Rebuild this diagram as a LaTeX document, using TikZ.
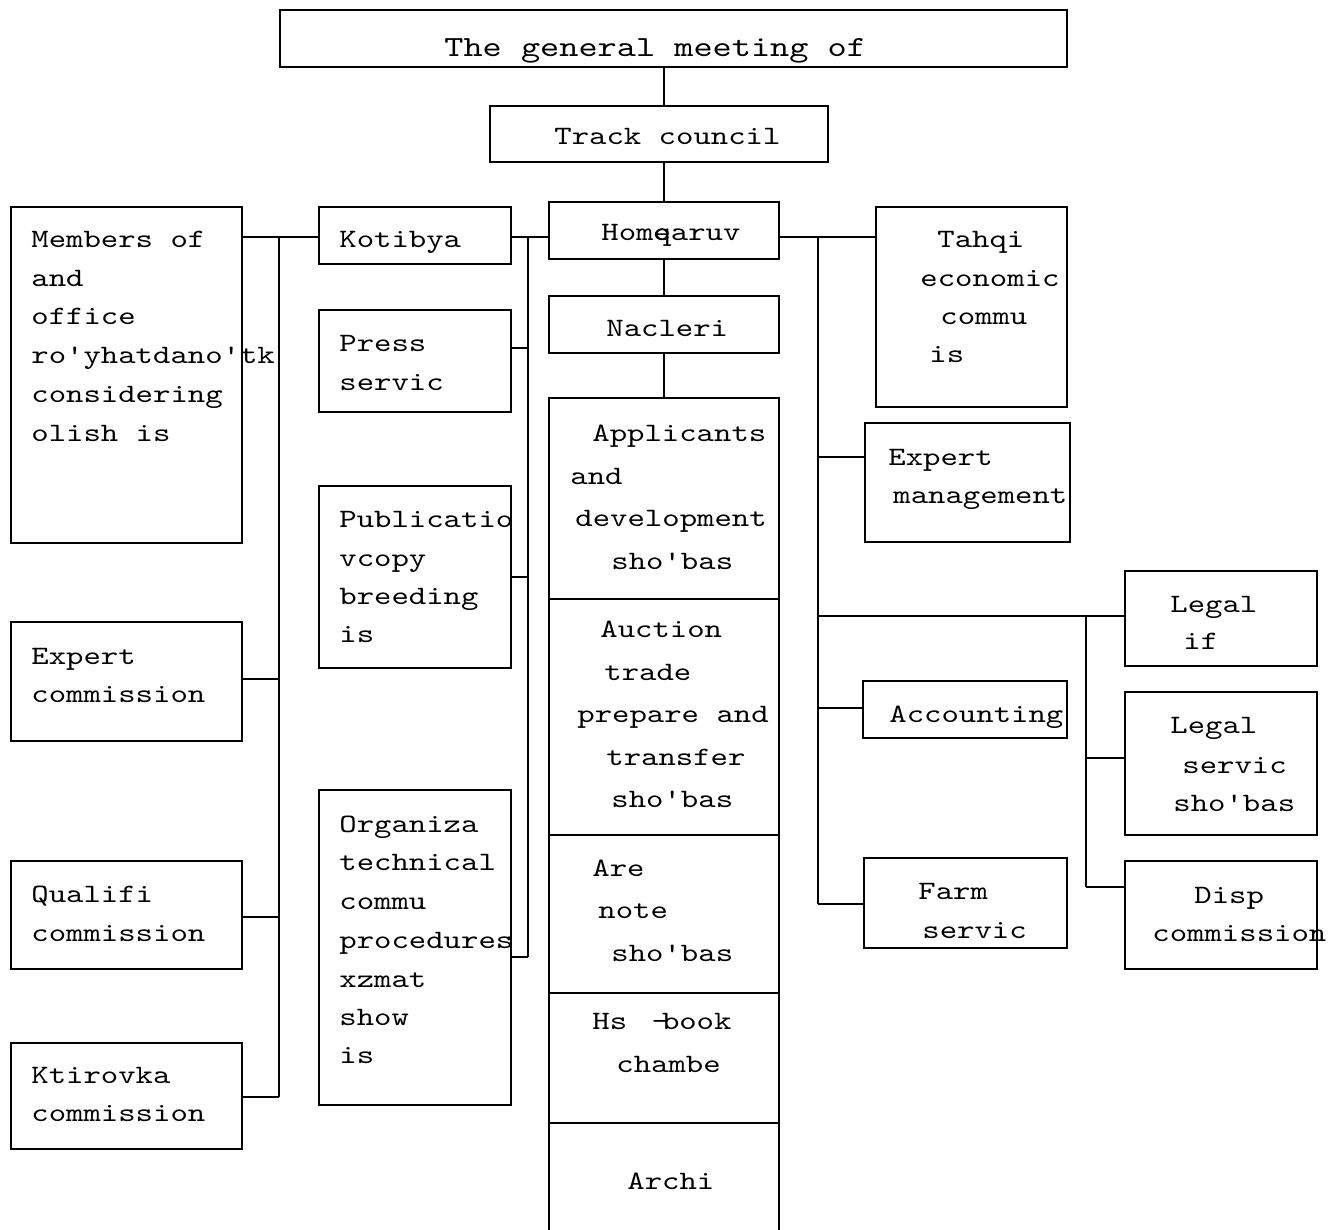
\documentclass[tikz,border=0pt]{standalone}
\usepackage{fontspec}
\setmonofont[FakeStretch=1.25]{lmmono10-regular.otf}
\usetikzlibrary{calc}
\tikzset{
  box/.style={draw, line width=1pt, anchor=north west, inner sep=0pt},
  txt/.style={anchor=base west, inner sep=0pt, font=\ttfamily\fontsize{13.25}{19}\selectfont},
  bigtxt/.style={anchor=base west, inner sep=0pt, font=\ttfamily\fontsize{14.6}{19}\selectfont},
  conn/.style={line width=1pt},
}
\newcommand\bx[5]{\node[box, minimum width={(#4-#2)*0.5pt}, minimum height={(#5-#3)*0.5pt}] (#1) at (#2,#3) {};}
\newcommand\tl[4]{\node[txt] (#1) at (#2,{#3+8}) {#4};}
\begin{document}
\begin{tikzpicture}[x=0.5pt,y=-0.5pt]
\useasboundingbox (0,0) rectangle (1339,1230);
% boxes
\bx{gm}{279}{9}{1066}{66}
\bx{tc}{489}{105}{827}{161}
\bx{home}{548}{201}{778}{258}
\bx{nac}{548}{295}{778}{352}
\bx{app}{548}{397}{778}{598}
\bx{auc}{548}{598}{778}{834}
\bx{are}{548}{834}{778}{992}
\bx{hs}{548}{992}{778}{1122}
\bx{arc}{548}{1122}{778}{1250}
\bx{mem}{10}{206}{241}{542}
\bx{expc}{10}{621}{241}{740}
\bx{qual}{10}{860}{241}{968}
\bx{ktir}{10}{1042}{241}{1148}
\bx{kot}{318}{206}{510}{263}
\bx{press}{318}{309}{510}{411}
\bx{pub}{318}{485}{510}{667}
\bx{org}{318}{789}{510}{1104}
\bx{tahqi}{875}{206}{1066}{406}
\bx{expm}{864}{422}{1069}{541}
\bx{legif}{1124}{570}{1316}{665}
\bx{acc}{862}{680}{1066}{737}
\bx{legs}{1124}{691}{1316}{834}
\bx{farm}{863}{857}{1066}{947}
\bx{disp}{1124}{860}{1316}{968}
% texts
\node[bigtxt] (t-gm) at (444,57) {The general meeting of};
\tl{t-tc}{554}{137}{Track council}
\tl{t-home}{601}{233}{Hom\rlap{e}qaruv}
\tl{t-nac}{606}{328}{Nacleri}
\tl{t-app1}{592}{433}{Applicants}
\tl{t-app2}{570}{476}{and}
\tl{t-app3}{575}{518}{development}
\tl{t-app4}{611}{561}{sho'bas}
\tl{t-auc1}{600}{629}{Auction}
\tl{t-auc2}{604}{672}{trade}
\tl{t-auc3}{577}{714}{prepare and}
\tl{t-auc4}{606}{757}{transfer}
\tl{t-auc5}{611}{799}{sho'bas}
\tl{t-are1}{592}{868}{Are}
\tl{t-are2}{598}{910}{note}
\tl{t-are3}{611}{953}{sho'bas}
\tl{t-hs1}{592}{1021}{Hs~\rlap{\kern0.27em–}~book}
\tl{t-hs2}{616}{1064}{chambe}
\tl{t-arc}{627}{1181}{Archi}
\tl{t-mem1}{31}{240}{Members of}
\tl{t-mem2}{31}{279}{and}
\tl{t-mem3}{31}{317}{office}
\tl{t-mem4}{31}{356}{ro'yhatdano'tk}
\tl{t-mem5}{31}{394}{considering}
\tl{t-mem6}{31}{433}{olish is}
\tl{t-expc1}{31}{656}{Expert}
\tl{t-expc2}{31}{694}{commission}
\tl{t-qual1}{31}{894}{Qualifi}
\tl{t-qual2}{31}{933}{commission}
\tl{t-ktir1}{31}{1075}{Ktirovka}
\tl{t-ktir2}{31}{1113}{commission}
\tl{t-kot}{339}{240}{Kotibya}
\tl{t-press1}{339}{343}{Press}
\tl{t-press2}{339}{382}{servic}
\tl{t-pub1}{339}{519}{Publicatio}
\tl{t-pub2}{339}{558}{vcopy}
\tl{t-pub3}{339}{596}{breeding}
\tl{t-pub4}{339}{634}{is}
\tl{t-org1}{339}{824}{Organiza}
\tl{t-org2}{339}{862}{technical}
\tl{t-org3}{339}{901}{commu}
\tl{t-org4}{339}{940}{procedures}
\tl{t-org5}{339}{979}{xzmat}
\tl{t-org6}{339}{1017}{show}
\tl{t-org7}{339}{1055}{is}
\tl{t-tah1}{937}{240}{Tahqi}
\tl{t-tah2}{920}{279}{economic}
\tl{t-tah3}{940}{317}{commu}
\tl{t-tah4}{929}{355}{is}
\tl{t-expm1}{888}{457}{Expert}
\tl{t-expm2}{893}{495}{management}
\tl{t-legif1}{1170}{604}{Legal}
\tl{t-legif2}{1183}{641}{if}
\tl{t-acc}{889}{714}{Accounting}
\tl{t-legs1}{1170}{725}{Legal}
\tl{t-legs2}{1182}{765}{servic}
\tl{t-legs3}{1173}{803}{sho'bas}
\tl{t-farm1}{918}{891}{Farm}
\tl{t-farm2}{922}{930}{servic}
\tl{t-disp1}{1194}{895}{Disp}
\tl{t-disp2}{1152}{933}{commission}
% central spine
\draw[conn] (home.north |- gm.south) -- (home.north |- tc.north);
\draw[conn] (home.north |- tc.south) -- (home.north);
\draw[conn] (home.south) -- (nac.north);
\draw[conn] (nac.south) -- (app.north);
% left bus
\coordinate (lbt) at (279,237);
\coordinate (lbb) at (279,1097);
\coordinate (j-expc) at (279,679);
\coordinate (j-qual) at (279,917);
\draw[conn] (mem.east |- lbt) -- (kot.west |- lbt);
\draw[conn] (lbt) -- (lbb);
\draw[conn] (expc.east |- j-expc) -- (j-expc);
\draw[conn] (qual.east |- j-qual) -- (j-qual);
\draw[conn] (ktir.east |- lbb) -- (lbb);
% middle bus
\coordinate (mbt) at (528,237);
\coordinate (mbb) at (528,957);
\coordinate (j-press) at (528,348);
\coordinate (j-pub) at (528,577);
\draw[conn] (kot.east |- mbt) -- (home.west |- mbt);
\draw[conn] (mbt) -- (mbb);
\draw[conn] (press.east |- j-press) -- (j-press);
\draw[conn] (pub.east |- j-pub) -- (j-pub);
\draw[conn] (org.east |- mbb) -- (mbb);
% right bus
\coordinate (rbt) at (818,237);
\coordinate (rbb) at (818,904);
\coordinate (j-expm) at (818,457);
\coordinate (j-leg) at (818,616);
\coordinate (j-acc) at (818,708);
\draw[conn] (home.east |- rbt) -- (tahqi.west |- rbt);
\draw[conn] (rbt) -- (rbb);
\draw[conn] (j-expm) -- (expm.west |- j-expm);
\draw[conn] (j-leg) -- (legif.west |- j-leg);
\draw[conn] (j-acc) -- (acc.west |- j-acc);
\draw[conn] (rbb) -- (farm.west |- rbb);
% second right bus
\coordinate (r2t) at (1086,616);
\coordinate (r2b) at (1086,887);
\coordinate (j-legs) at (1086,758);
\draw[conn] (r2t) -- (r2b);
\draw[conn] (j-legs) -- (legs.west |- j-legs);
\draw[conn] (r2b) -- (disp.west |- r2b);
\end{tikzpicture}
\end{document}
